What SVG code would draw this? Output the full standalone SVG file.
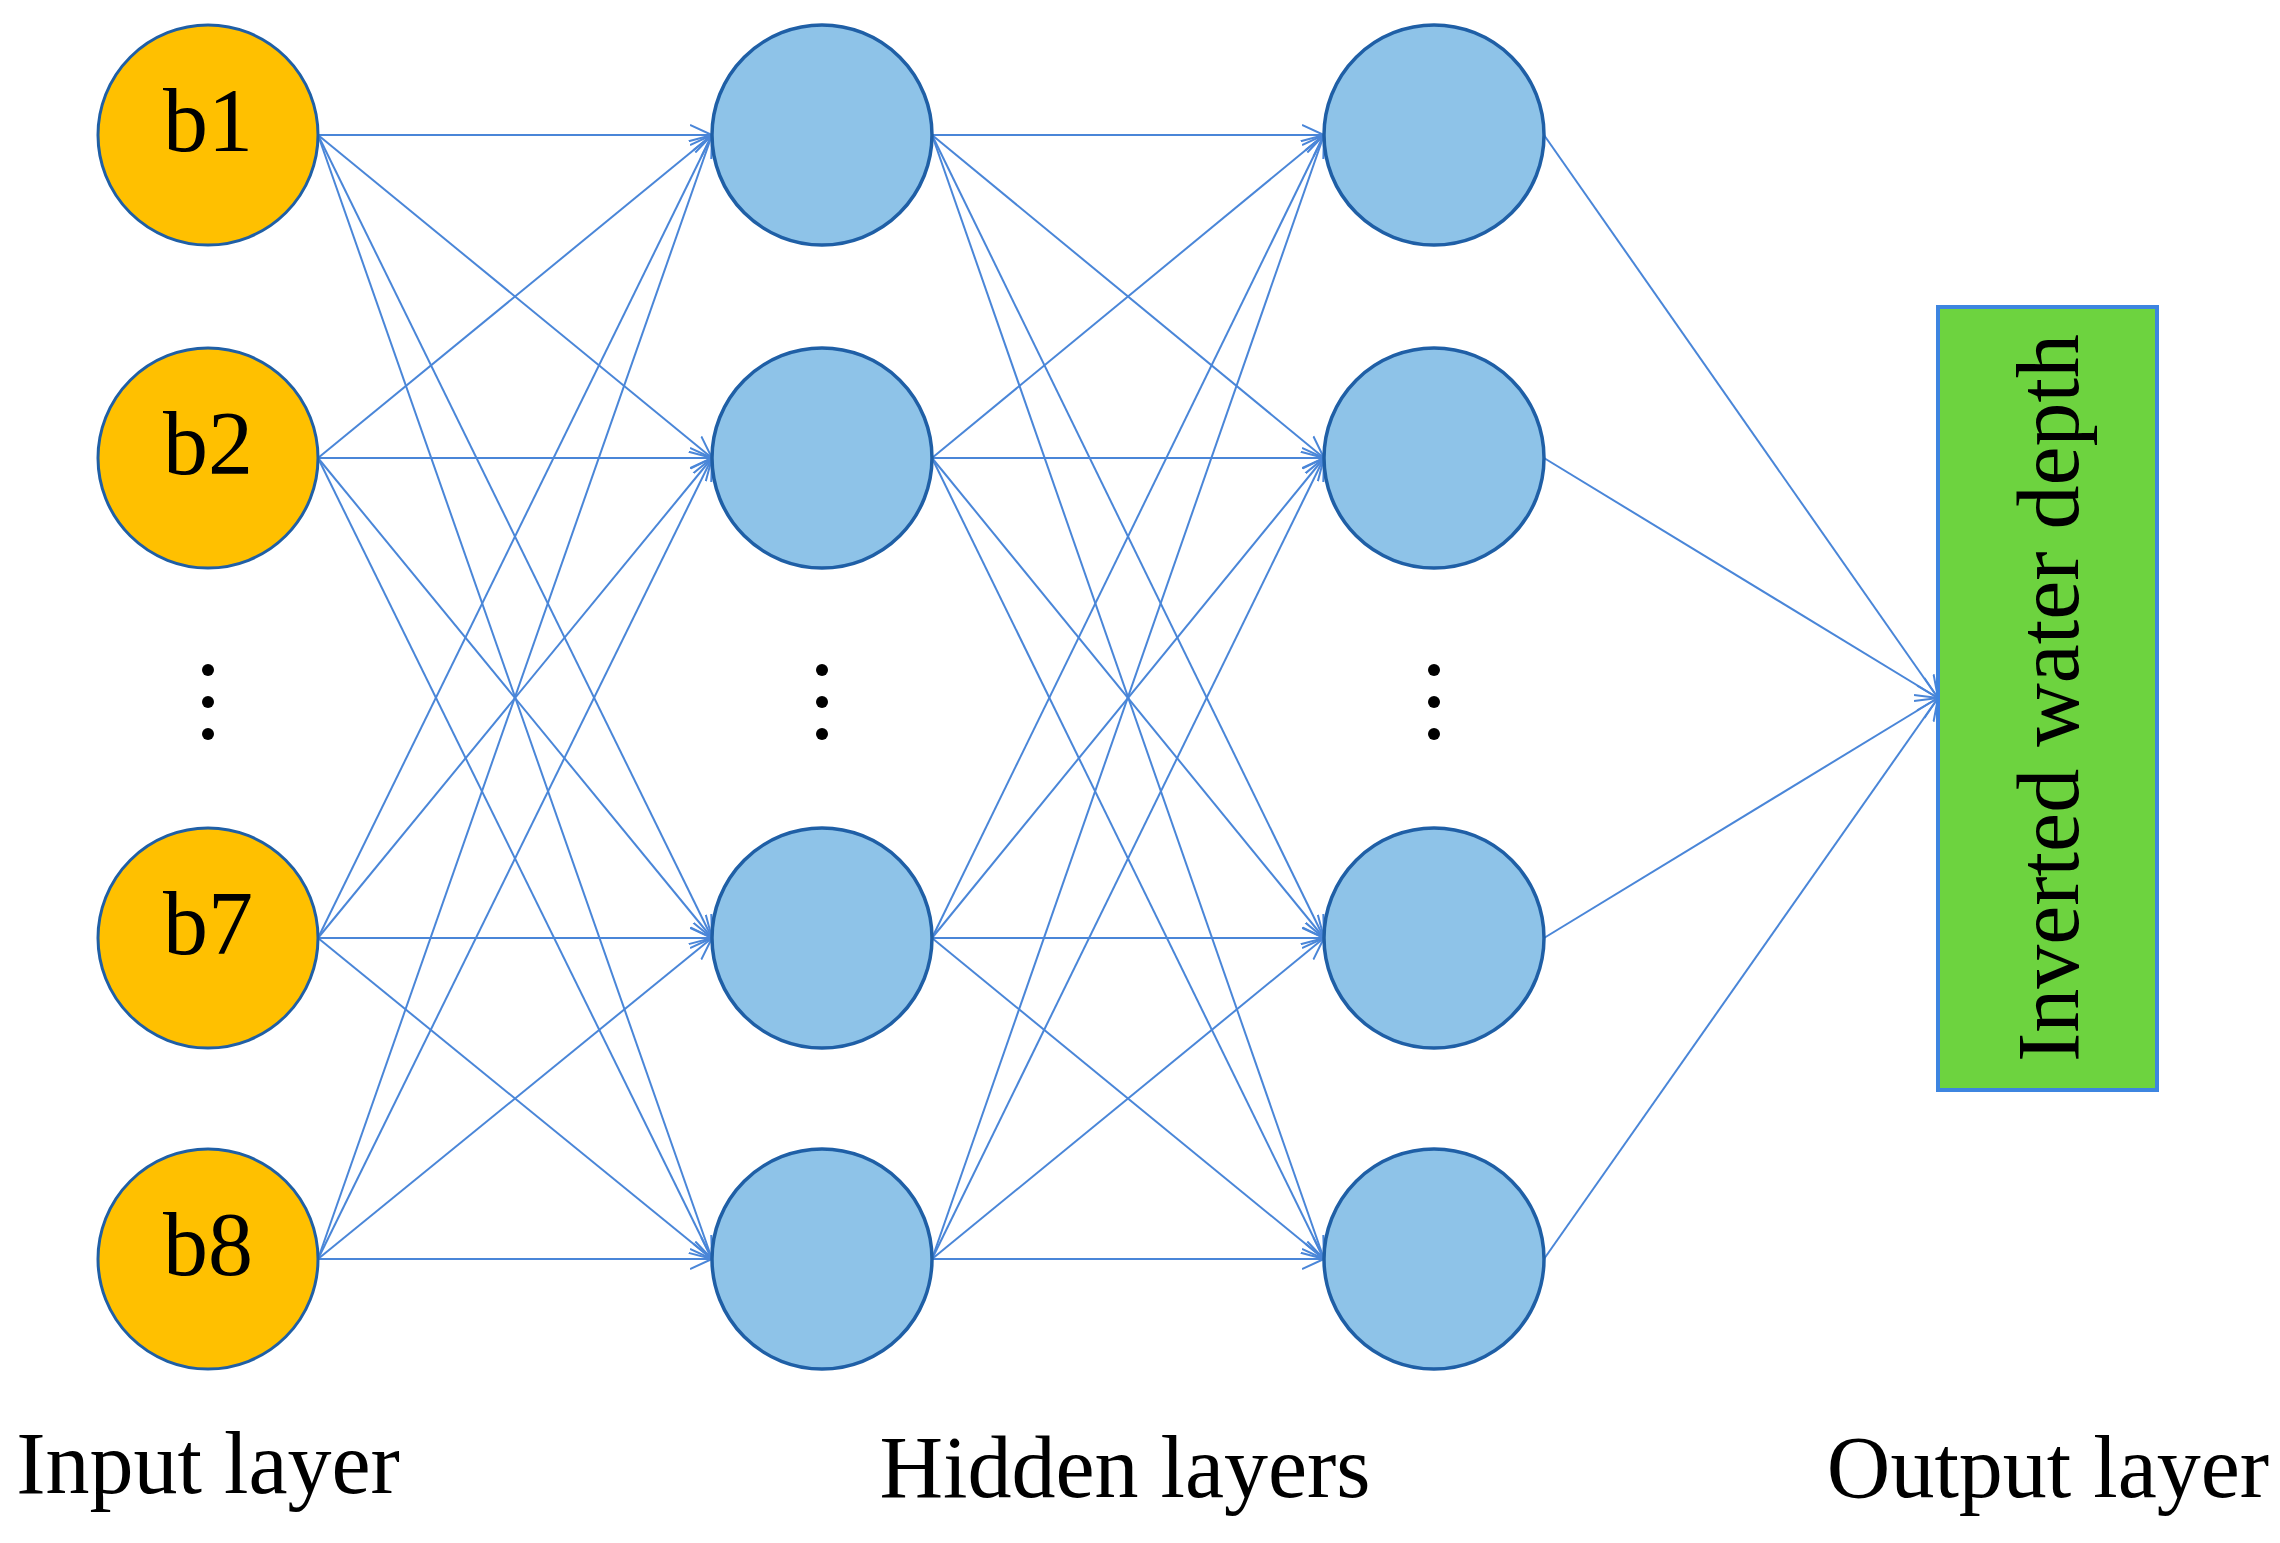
<svg xmlns="http://www.w3.org/2000/svg" width="2280" height="1543" viewBox="0 0 2280 1543">
<style>
.in{fill:#FFC000;stroke:#1F5FA6;stroke-width:3}
.hid{fill:#8EC3E8;stroke:#1F5FA6;stroke-width:3.5}
.c line{stroke:#4A86D8;stroke-width:2;fill:none;marker-end:url(#a)}
text{font-family:"Liberation Serif","Times New Roman",serif;fill:#000}
.lb{font-size:90px;text-anchor:middle}
.ax{font-size:88px;text-anchor:middle}
.dot{fill:#000}
</style>
<defs>
<marker id="a" markerUnits="userSpaceOnUse" markerWidth="26" markerHeight="26" refX="22" refY="10" orient="auto" viewBox="0 0 26 20">
<path d="M0,0 L22,10 L0,20" fill="none" stroke="#4A86D8" stroke-width="2"/>
</marker>
</defs>
<g class="c" id="connectors">
<line x1="318" y1="135" x2="712" y2="135"/><line x1="318" y1="135" x2="712" y2="458"/><line x1="318" y1="135" x2="712" y2="938"/><line x1="318" y1="135" x2="712" y2="1259"/>
<line x1="318" y1="458" x2="712" y2="135"/><line x1="318" y1="458" x2="712" y2="458"/><line x1="318" y1="458" x2="712" y2="938"/><line x1="318" y1="458" x2="712" y2="1259"/>
<line x1="318" y1="938" x2="712" y2="135"/><line x1="318" y1="938" x2="712" y2="458"/><line x1="318" y1="938" x2="712" y2="938"/><line x1="318" y1="938" x2="712" y2="1259"/>
<line x1="318" y1="1259" x2="712" y2="135"/><line x1="318" y1="1259" x2="712" y2="458"/><line x1="318" y1="1259" x2="712" y2="938"/><line x1="318" y1="1259" x2="712" y2="1259"/>
<line x1="932" y1="135" x2="1324" y2="135"/><line x1="932" y1="135" x2="1324" y2="458"/><line x1="932" y1="135" x2="1324" y2="938"/><line x1="932" y1="135" x2="1324" y2="1259"/>
<line x1="932" y1="458" x2="1324" y2="135"/><line x1="932" y1="458" x2="1324" y2="458"/><line x1="932" y1="458" x2="1324" y2="938"/><line x1="932" y1="458" x2="1324" y2="1259"/>
<line x1="932" y1="938" x2="1324" y2="135"/><line x1="932" y1="938" x2="1324" y2="458"/><line x1="932" y1="938" x2="1324" y2="938"/><line x1="932" y1="938" x2="1324" y2="1259"/>
<line x1="932" y1="1259" x2="1324" y2="135"/><line x1="932" y1="1259" x2="1324" y2="458"/><line x1="932" y1="1259" x2="1324" y2="938"/><line x1="932" y1="1259" x2="1324" y2="1259"/>
<line x1="1544" y1="135" x2="1938" y2="698"/><line x1="1544" y1="458" x2="1938" y2="698"/><line x1="1544" y1="938" x2="1938" y2="698"/><line x1="1544" y1="1259" x2="1938" y2="698"/>
</g>
<g id="b1"><circle class="in" cx="208" cy="135" r="110"/><text class="lb" x="208" y="151">b1</text></g>
<g id="b2"><circle class="in" cx="208" cy="458" r="110"/><text class="lb" x="208" y="474">b2</text></g>
<g id="b7"><circle class="in" cx="208" cy="938" r="110"/><text class="lb" x="208" y="954">b7</text></g>
<g id="b8"><circle class="in" cx="208" cy="1259" r="110"/><text class="lb" x="208" y="1275">b8</text></g>
<g id="h1a"><circle class="hid" cx="822" cy="135" r="110"/></g>
<g id="h1b"><circle class="hid" cx="822" cy="458" r="110"/></g>
<g id="h1c"><circle class="hid" cx="822" cy="938" r="110"/></g>
<g id="h1d"><circle class="hid" cx="822" cy="1259" r="110"/></g>
<g id="h2a"><circle class="hid" cx="1434" cy="135" r="110"/></g>
<g id="h2b"><circle class="hid" cx="1434" cy="458" r="110"/></g>
<g id="h2c"><circle class="hid" cx="1434" cy="938" r="110"/></g>
<g id="h2d"><circle class="hid" cx="1434" cy="1259" r="110"/></g>
<g id="dots">
<circle class="dot" cx="208" cy="670" r="6"/><circle class="dot" cx="208" cy="702" r="6"/><circle class="dot" cx="208" cy="734" r="6"/>
<circle class="dot" cx="822" cy="670" r="6"/><circle class="dot" cx="822" cy="702" r="6"/><circle class="dot" cx="822" cy="734" r="6"/>
<circle class="dot" cx="1434" cy="670" r="6"/><circle class="dot" cx="1434" cy="702" r="6"/><circle class="dot" cx="1434" cy="734" r="6"/>
</g>
<g id="output">
<rect x="1938" y="307" width="219" height="783" fill="#6DD33F" stroke="#3D85E0" stroke-width="4"/>
<text class="ax" transform="translate(2078,698) rotate(-90)" x="0" y="0">Inverted water depth</text>
</g>
<g id="labels">
<text class="ax" x="208" y="1493">Input layer</text>
<text class="ax" x="1125" y="1497">Hidden layers</text>
<text class="ax" x="2048" y="1497">Output layer</text>
</g>
</svg>
